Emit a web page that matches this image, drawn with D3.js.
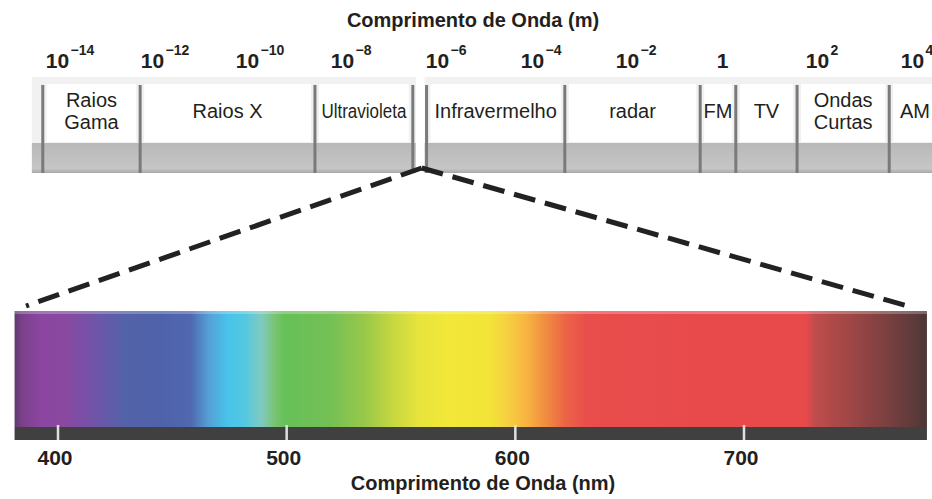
<!DOCTYPE html>
<html>
<head>
<meta charset="utf-8">
<script src="https://cdn.jsdelivr.net/npm/d3@7"></script>
<style>
  html, body { margin: 0; padding: 0; background: #ffffff; }
  svg { display: block; font-family: "Liberation Sans", Arial, sans-serif; }
</style>
</head>
<body>
<svg id="chart" width="932" height="499"></svg>
<script>
// ---------- data ----------
// top axis: exponents of 10 (wavelength in metres)
const decades = [-14, -12, -10, -8, -6, -4, -2, 0, 2, 4];
// band boundaries on the top axis (log10 of wavelength in metres)
const bandStart = -14.54;
const bandEdges = [-14.31, -12.26, -8.58, -6.52, -6.23, -3.32, -0.47, 0.28, 1.57, 3.51, 4.7];
const bandLabels = [["Raios", "Gama"], ["Raios X"], ["Ultravioleta"], [], ["Infravermelho"],
                    ["radar"], ["FM"], ["TV"], ["Ondas", "Curtas"], ["AM"]];
// bottom axis: visible spectrum (nm)
const nmTicks = [400, 500, 600, 700];
const spectrumRange = [381, 780];
const stopNm = [381, 384, 392, 403, 414, 429, 445, 458, 466, 474, 482, 489, 495, 499, 519, 534,
                547, 558, 571, 589, 596, 604, 613, 622, 631, 681, 727, 731, 746, 762, 775, 780];
const stopColor = ["#5e3a70", "#7a4088", "#8a46a0", "#8a48a0", "#7452a8", "#5462a8", "#4e62aa", "#5068b0",
                   "#55a0d5", "#48c3ea", "#55c8e0", "#80cac0", "#78c470", "#66c058", "#74c055", "#98c84a",
                   "#c8d840", "#e8e43c", "#f2e838", "#f2e438", "#f6d040", "#f8b840", "#f08e40", "#ec6446",
                   "#e84e4c", "#e84a4c", "#e84a4c", "#c04c4c", "#a04646", "#7c4040", "#5c3a3a", "#4a3636"];
const topTitle = "Comprimento de Onda (m)";
const bottomTitle = "Comprimento de Onda (nm)";

// ---------- drawing ----------
const svg = d3.select("#chart");
const ink = "#231f20";

const xTop = d3.scaleLinear().domain([-14, 4]).range([57.5, 912.5]);
const xNm = d3.scaleLinear().domain([400, 700]).range([58, 744]);

const bandTop = 77, boxTop = 84, grayTop = 143, bandBottom = 173;

// titles
svg.append("text").attr("x", 473).attr("y", 27).attr("text-anchor", "middle")
  .attr("font-size", 20).attr("font-weight", "bold").attr("fill", ink).text(topTitle);
svg.append("text").attr("x", 483).attr("y", 490).attr("text-anchor", "middle")
  .attr("font-size", 20).attr("font-weight", "bold").attr("fill", ink).text(bottomTitle);

// top tick labels
const tl = svg.append("g").selectAll("g").data(decades).join("g")
  .attr("transform", d => `translate(${xTop(d)},68)`);
tl.append("text").attr("text-anchor", "middle").attr("font-size", 21).attr("font-weight", "bold")
  .attr("fill", ink).text(d => d === 0 ? "1" : "10");
tl.filter(d => d !== 0).append("text").attr("x", 13).attr("y", -13)
  .attr("font-size", 14).attr("font-weight", "bold").attr("fill", ink)
  .text(d => (d < 0 ? "\u2212" : "") + Math.abs(d));

// band background
const xLeft = xTop(bandStart), xRight = xTop(bandEdges[bandEdges.length - 1]);
svg.append("rect").attr("x", xLeft).attr("y", bandTop).attr("width", xRight - xLeft)
  .attr("height", grayTop - bandTop).attr("fill", "#f1f1f1");
const gg = svg.append("defs").append("linearGradient").attr("id", "gray").attr("x1", 0).attr("x2", 0).attr("y1", 0).attr("y2", 1);
gg.append("stop").attr("offset", 0).attr("stop-color", "#b8b8b8");
gg.append("stop").attr("offset", 0.85).attr("stop-color", "#c6c6c6");
gg.append("stop").attr("offset", 1).attr("stop-color", "#a8a8a8");
svg.append("rect").attr("x", xLeft).attr("y", grayTop).attr("width", xRight - xLeft)
  .attr("height", bandBottom - grayTop).attr("fill", "url(#gray)");

const bands = bandLabels.map((lab, i) => ({ lab, a: bandEdges[i], b: bandEdges[i + 1], i }));

// white label boxes
svg.append("g").selectAll("rect").data(bands.filter(d => d.lab.length)).join("rect")
  .attr("x", d => xTop(d.a) + 4)
  .attr("y", boxTop)
  .attr("width", d => Math.max(0, xTop(d.b) - xTop(d.a) - 8))
  .attr("height", grayTop - boxTop - 1)
  .attr("fill", "#ffffff");

// visible gap
const vis = bands[3];
svg.append("rect").attr("x", xTop(vis.a) + 3).attr("y", bandTop - 2)
  .attr("width", xTop(vis.b) - xTop(vis.a) - 5).attr("height", bandBottom - bandTop + 2).attr("fill", "#ffffff");

// dividers
svg.append("g").selectAll("line").data(bandEdges.slice(0, -1)).join("line")
  .attr("x1", d => xTop(d)).attr("x2", d => xTop(d))
  .attr("y1", boxTop + 1).attr("y2", bandBottom)
  .attr("stroke", "#7a7a7a").attr("stroke-width", 3);

// band labels
const lbl = svg.append("g").selectAll("text").data(bands.filter(d => d.lab.length)).join("text")
  .attr("text-anchor", "middle").attr("font-size", 20).attr("fill", ink)
  .attr("x", d => (xTop(d.a) + xTop(d.b)) / 2);
lbl.each(function (d) {
  const t = d3.select(this);
  if (d.lab.length === 1) {
    t.attr("y", 118).text(d.lab[0]);
    if (d.lab[0] === "Ultravioleta") t.attr("textLength", 85).attr("lengthAdjust", "spacingAndGlyphs");
  } else {
    d.lab.forEach((s, k) => t.append("tspan").attr("x", (xTop(d.a) + xTop(d.b)) / 2).attr("y", 107 + k * 22).text(s));
  }
});
// AM sits near the right edge
lbl.filter(d => d.lab[0] === "AM").attr("x", 915);

// spectrum
const defs = svg.select("defs");
const sg = defs.append("linearGradient").attr("id", "spec").attr("gradientUnits", "userSpaceOnUse")
  .attr("x1", xNm(spectrumRange[0])).attr("x2", xNm(spectrumRange[1])).attr("y1", 0).attr("y2", 0);
const span = spectrumRange[1] - spectrumRange[0];
stopNm.forEach((n, i) => sg.append("stop").attr("offset", (n - spectrumRange[0]) / span).attr("stop-color", stopColor[i]));

const sx0 = xNm(spectrumRange[0]), sx1 = xNm(spectrumRange[1]);
const specTop = 311, specBot = 427, barBot = 440;
svg.append("rect").attr("x", sx0).attr("y", specTop).attr("width", sx1 - sx0).attr("height", specBot - specTop)
  .attr("fill", "url(#spec)");
svg.append("rect").attr("x", sx0).attr("y", specTop).attr("width", sx1 - sx0).attr("height", 3)
  .attr("fill", "#ffffff").attr("opacity", 0.25);
svg.append("rect").attr("x", sx0).attr("y", specBot).attr("width", sx1 - sx0).attr("height", barBot - specBot)
  .attr("fill", "#404040");

svg.append("g").selectAll("line").data(nmTicks).join("line")
  .attr("x1", d => xNm(d)).attr("x2", d => xNm(d)).attr("y1", specBot - 2).attr("y2", barBot)
  .attr("stroke", "#e0e0e0").attr("stroke-width", 2.5);
svg.append("g").selectAll("text").data(nmTicks).join("text")
  .attr("x", d => xNm(d) - 3).attr("y", 465).attr("text-anchor", "middle")
  .attr("font-size", 21).attr("font-weight", "bold").attr("fill", ink).text(d => d);

// dashed zoom lines from the visible gap to the spectrum ends
const apex = [(xTop(vis.a) + xTop(vis.b)) / 2 + 2, 168];
const ends = [[xNm(386), 306], [xNm(773), 307]];
svg.append("g").selectAll("line").data(ends).join("line")
  .attr("x1", apex[0]).attr("y1", apex[1]).attr("x2", d => d[0]).attr("y2", d => d[1])
  .attr("stroke", "#222222").attr("stroke-width", 5).attr("stroke-dasharray", "22,10");
</script>
</body>
</html>
